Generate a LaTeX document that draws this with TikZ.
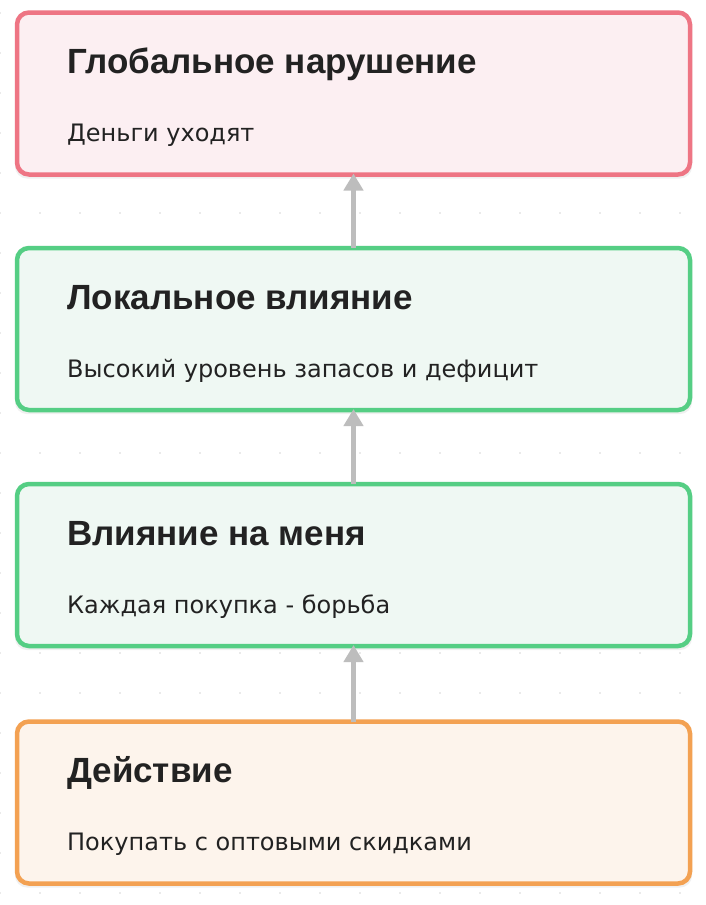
\documentclass[tikz,border=0pt]{standalone}
\usepackage{fontspec}
\setmainfont{DejaVu Sans}
\newfontfamily\titlefont{Liberation Sans}
\usetikzlibrary{arrows.meta}
\definecolor{txt}{HTML}{222222}
\definecolor{redS}{HTML}{EE7584}
\definecolor{redF}{HTML}{FCEFF2}
\definecolor{grnS}{HTML}{55CE84}
\definecolor{grnF}{HTML}{EFF8F3}
\definecolor{orgS}{HTML}{F3A152}
\definecolor{orgF}{HTML}{FDF4EC}
\definecolor{arrC}{HTML}{BDBDBD}
\definecolor{dotC}{HTML}{D6D6D6}
\tikzset{
  card/.style={rounded corners=12pt, line width=4.5pt, minimum width=673pt, minimum height=162pt, inner sep=0pt, outer sep=0pt},
  shadowbox/.style={rounded corners=12pt, fill=black!6, draw=none, minimum width=677pt, minimum height=164pt, inner sep=0pt},
  ttl/.style={anchor=base west, inner sep=0pt, text=txt, font=\titlefont\fontsize{35}{40}\selectfont\bfseries},
  bdy/.style={anchor=base west, inner sep=0pt, text=txt, font=\fontsize{24}{28}\selectfont},
  arr/.style={draw=arrC, line width=4.5pt, -{Triangle[length=17pt,width=19pt]}, shorten >=-1pt},
}
\begin{document}
\begin{tikzpicture}[x=1pt,y=-1pt]
\useasboundingbox (0,0) rectangle (706,905);
\fill[white] (0,0) rectangle (706,905);
\foreach \i in {0,...,17} {
  \foreach \j in {0,...,22} {
    \fill[dotC] (40*\i,13+40*\j) circle (0.9pt);
  }
}
% shadows
\foreach \c in {93.5,329,565,802.5} {
  \node[shadowbox] at (353.5,\c+3) {};
}
\node[card, draw=redS, fill=redF] (b1) at (353.5,93.5) {};
\node[card, draw=grnS, fill=grnF] (b2) at (353.5,329) {};
\node[card, draw=grnS, fill=grnF] (b3) at (353.5,565) {};
\node[card, draw=orgS, fill=orgF] (b4) at (353.5,802.5) {};

\node[ttl] (t1) at (67,73) {Глобальное нарушение};
\node[bdy] (s1) at (67,141) {Деньги уходят};
\node[ttl] (t2) at (67,309) {Локальное влияние};
\node[bdy] (s2) at (67,377) {Высокий уровень запасов и дефицит};
\node[ttl] (t3) at (67,545) {Влияние на меня};
\node[bdy] (s3) at (67,613) {Каждая покупка - борьба};
\node[ttl] (t4) at (67,782) {Действие};
\node[bdy] (s4) at (67,850) {Покупать с оптовыми скидками};

\draw[arr] (b2.north) -- (b1.south);
\draw[arr] (b3.north) -- (b2.south);
\draw[arr] (b4.north) -- (b3.south);
\end{tikzpicture}
\end{document}
